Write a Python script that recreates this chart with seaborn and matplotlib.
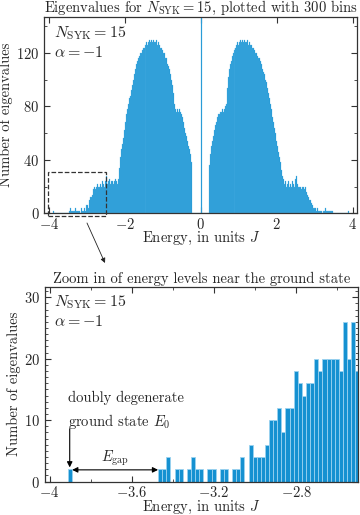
import numpy as np
import pandas as pd
import seaborn as sns
import matplotlib.pyplot as plt
from matplotlib.patches import Rectangle, FancyArrowPatch
from matplotlib.ticker import MultipleLocator, FuncFormatter

# --- data ---
# full spectrum, 300 bins between the extreme eigenvalues
E_MIN, E_MAX, N_BINS = -3.912, 3.912, 300
full_counts = [
    2, 0, 0, 0, 0, 0, 0, 0, 0, 0,
    0, 0, 0, 0, 0, 0, 0, 2, 4, 2,
    2, 2, 2, 4, 2, 2, 2, 2, 0, 4,
    2, 2, 4, 2, 6, 6, 4, 10, 12, 12,
    14, 18, 20, 18, 20, 22, 20, 20, 22, 20,
    24, 22, 20, 24, 28, 22, 24, 26, 22, 24,
    24, 22, 24, 26, 24, 22, 26, 34, 42, 48,
    52, 56, 62, 68, 74, 78, 82, 86, 88, 92,
    96, 100, 104, 108, 112, 114, 116, 118, 120, 120,
    122, 124, 124, 126, 126, 128, 126, 128, 130, 128,
    130, 128, 130, 128, 128, 130, 126, 128, 126, 124,
    124, 122, 120, 120, 116, 116, 112, 110, 108, 104,
    100, 96, 90, 82, 78, 76, 78, 76, 78, 76,
    74, 72, 68, 64, 60, 58, 54, 50, 48, 44,
    38, 0, 0, 0, 0, 0, 0, 0, 0, 0,
    400, 0, 0, 0, 0, 0, 0, 0, 36, 44,
    50, 54, 58, 62, 66, 68, 72, 74, 74, 76,
    76, 78, 76, 78, 80, 82, 94, 102, 108, 112,
    114, 118, 120, 122, 124, 124, 126, 128, 126, 128,
    130, 128, 130, 128, 130, 128, 128, 130, 126, 128,
    126, 126, 124, 124, 122, 120, 120, 118, 116, 116,
    114, 112, 108, 106, 104, 100, 98, 94, 90, 86,
    82, 78, 72, 68, 64, 60, 54, 50, 46, 42,
    38, 32, 28, 26, 22, 24, 20, 22, 24, 20,
    22, 20, 24, 22, 20, 26, 28, 22, 20, 20,
    20, 18, 20, 20, 18, 20, 16, 14, 12, 10,
    10, 8, 6, 4, 4, 4, 2, 4, 2, 2,
    2, 2, 0, 2, 2, 2, 4, 2, 2, 2,
    2, 2, 2, 2, 0, 0, 0, 0, 0, 0,
    0, 0, 0, 0, 0, 0, 0, 0, 0, 2,
]

# zoom near the ground state, bins of width 0.02
ZOOM_START, ZOOM_WIDTH = -3.912, 0.02
zoom_counts = [
    2, 0, 0, 0, 0, 0, 0, 0, 0, 0,
    0, 0, 0, 0, 0, 0, 0, 0, 0, 0,
    0, 0, 2, 2, 4, 0, 2, 2, 0, 2,
    4, 2, 2, 0, 2, 2, 0, 2, 2, 0,
    2, 2, 4, 0, 6, 4, 4, 4, 6, 10,
    10, 12, 8, 12, 12, 18, 16, 14, 16, 16,
    20, 18, 20, 20, 20, 20, 18, 26, 20, 26,
    18,
]

E_GROUND = -3.902
E_FIRST_EXCITED = -3.472

# --- style ---
sns.set_style('ticks')
plt.rcParams['font.family'] = ['cmr10']
plt.rcParams['mathtext.fontset'] = 'cm'
plt.rcParams['axes.formatter.use_mathtext'] = True
plt.rcParams['axes.unicode_minus'] = True

BLUE = '#1591d1'
EDGE = '#9ad2f0'
FS = 10.5
FS_MATH = 11.5

fig = plt.figure(figsize=(3.6, 5.15), dpi=100)
ax1 = fig.add_axes([0.123, 0.586, 0.870, 0.381])
ax2 = fig.add_axes([0.124, 0.065, 0.870, 0.378])

# top: full spectrum
step = (E_MAX - E_MIN) / N_BINS
full = pd.DataFrame({'energy': E_MIN + step * (np.arange(N_BINS) + 0.5),
                     'count': full_counts})
sns.histplot(data=full, x='energy', weights='count', bins=N_BINS,
             binrange=(E_MIN, E_MAX), color=BLUE, alpha=1, edgecolor='#62b9e8',
             linewidth=0.2, ax=ax1)
ax1.set_xlim(-4.13, 4.13)
ax1.set_ylim(0, 147)
ax1.xaxis.set_major_locator(MultipleLocator(2))
ax1.yaxis.set_major_locator(MultipleLocator(40))
ax1.yaxis.set_minor_locator(MultipleLocator(20))
ax1.set_title(r'Eigenvalues for $N_{\mathrm{SYK}} = 15$, plotted with 300 bins',
              fontsize=FS, pad=3)
ax1.text(0.03, 0.965, '$N_{\\mathrm{SYK}} = 15$\n$\\alpha = -1$', transform=ax1.transAxes,
         ha='left', va='top', fontsize=FS_MATH, linespacing=1.25)

# dashed box marking the zoomed region
box = Rectangle((-4.02, -2.2), 1.52, 33.0, fill=False, ls='--', lw=0.9,
                edgecolor='#333333', clip_on=False, zorder=5)
ax1.add_patch(box)

# bottom: zoom
nz = len(zoom_counts)
zoom = pd.DataFrame({'energy': ZOOM_START + ZOOM_WIDTH * (np.arange(nz) + 0.5),
                     'count': zoom_counts})
sns.histplot(data=zoom, x='energy', weights='count', bins=nz,
             binrange=(ZOOM_START, ZOOM_START + ZOOM_WIDTH * nz), color=BLUE,
             alpha=1, edgecolor=EDGE, linewidth=0.6, ax=ax2)
ax2.set_xlim(-4.024, -2.50)
ax2.set_ylim(0, 31.7)
ax2.xaxis.set_major_locator(MultipleLocator(0.4))
ax2.xaxis.set_minor_locator(MultipleLocator(0.2))
ax2.yaxis.set_major_locator(MultipleLocator(10))
ax2.yaxis.set_minor_locator(MultipleLocator(1))
ax2.set_title('Zoom in of energy levels near the ground state', fontsize=FS, pad=3)
ax2.text(0.03, 0.965, '$N_{\\mathrm{SYK}} = 15$\n$\\alpha = -1$', transform=ax2.transAxes,
         ha='left', va='top', fontsize=FS_MATH, linespacing=1.25)

ax2.text(-3.912, 11.5, 'doubly degenerate\nground state $E_0$', ha='left', va='center',
         fontsize=FS, linespacing=1.5)
ax2.annotate('', xy=(E_GROUND, 2.3), xytext=(E_GROUND, 8.6),
             arrowprops=dict(arrowstyle='-|>', color='black', lw=0.8,
                             mutation_scale=8, shrinkA=0, shrinkB=0))
ax2.annotate('', xy=(E_GROUND + 0.012, 1.9), xytext=(E_FIRST_EXCITED, 1.9),
             arrowprops=dict(arrowstyle='<|-|>', color='black', lw=0.8,
                             mutation_scale=8, shrinkA=0, shrinkB=0))
ax2.text(-3.68, 3.7, '$E_{\\mathrm{gap}}$', ha='center', va='center', fontsize=FS)

tick_fmt = FuncFormatter(lambda v, pos: f'${v:g}$')
for ax in (ax1, ax2):
    ax.xaxis.set_major_formatter(tick_fmt)
    ax.yaxis.set_major_formatter(tick_fmt)
    ax.set_xlabel('Energy, in units $J$', fontsize=FS, labelpad=-1)
    ax.set_ylabel('Number of eigenvalues', fontsize=FS, labelpad=2)
    ax.tick_params(which='both', direction='in', top=True, right=True,
                   labelsize=FS, color='#333333')
    ax.tick_params(which='major', length=4, width=0.8)
    ax.tick_params(axis='x', which='major', pad=2.5)
    ax.tick_params(axis='y', which='major', pad=3.5)
    ax.tick_params(which='minor', length=2.5, width=0.6)
    for s in ax.spines.values():
        s.set_color('#333333')
        s.set_linewidth(0.9)

# arrow from the box down to the zoomed panel
conn = FancyArrowPatch((87 / 360, 1 - 223 / 515), (105 / 360, 1 - 263 / 515),
                       transform=fig.transFigure, arrowstyle='-|>', color='#222222',
                       lw=0.6, mutation_scale=7, shrinkA=0, shrinkB=0)
fig.patches.append(conn)

fig.savefig('out.png', dpi=100)
